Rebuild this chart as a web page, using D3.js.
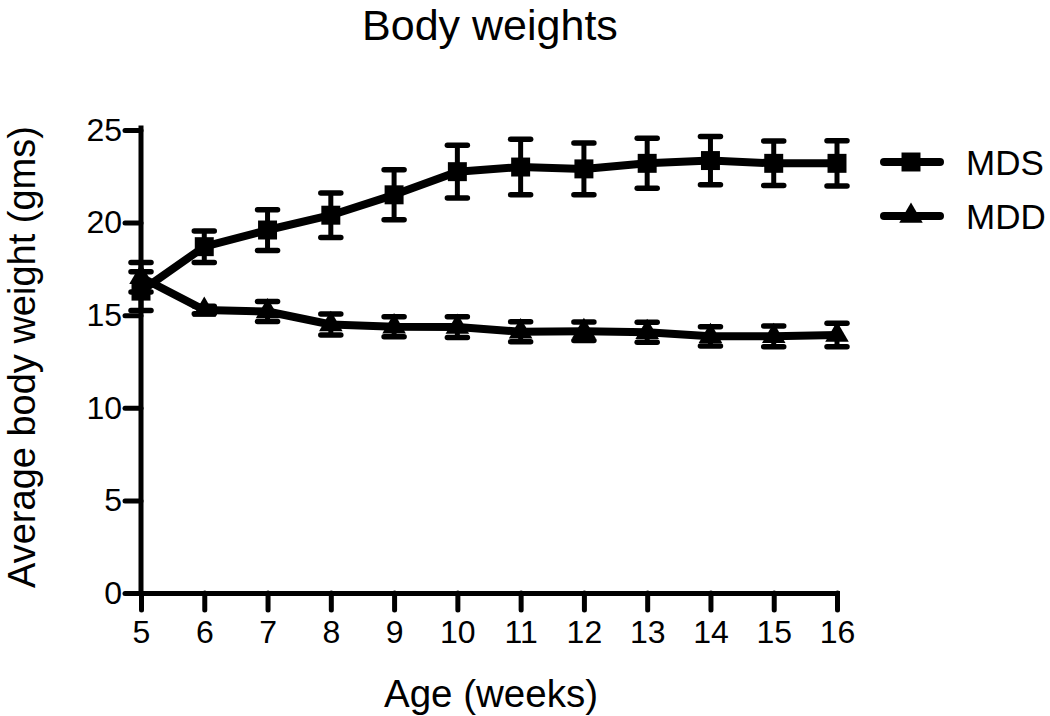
<!DOCTYPE html>
<html>
<head>
<meta charset="utf-8">
<script src="https://cdn.jsdelivr.net/npm/d3@7"></script>
<style>
  html, body { margin: 0; padding: 0; background: #fff; }
  svg { display: block; }
  text { font-family: "Liberation Sans", Arial, Helvetica, sans-serif; fill: #000; }
</style>
</head>
<body>
<svg id="chart" width="1050" height="716"></svg>
<script>
// ---- data ----
const weeks = [5, 6, 7, 8, 9, 10, 11, 12, 13, 14, 15, 16];
const mdsMean = [16.3, 18.7, 19.6, 20.4, 21.5, 22.75, 23.0, 22.9, 23.2, 23.35, 23.2, 23.2];
const mdsErr  = [1.05, 0.85, 1.1, 1.2, 1.35, 1.42, 1.5, 1.4, 1.35, 1.3, 1.2, 1.22];
const mddMean = [17.05, 15.28, 15.2, 14.5, 14.38, 14.36, 14.11, 14.13, 14.08, 13.86, 13.86, 13.93];
const mddErr  = [0.8, 0.2, 0.54, 0.57, 0.54, 0.56, 0.54, 0.5, 0.54, 0.52, 0.56, 0.63];
const yTicks = [0, 5, 10, 15, 20, 25];
const xTicks = weeks;
const seriesNames = ["MDS", "MDD"];
const titleText = "Body weights";
const xLabel = "Age (weeks)";
const yLabel = "Average body weight (gms)";

// ---- layout ----
const svg = d3.select("#chart");
const x = d3.scaleLinear().domain([5, 16]).range([141, 837]);
const y = d3.scaleLinear().domain([0, 25]).range([593, 130]);

// title
svg.append("text").attr("x", 490).attr("y", 40)
  .attr("text-anchor", "middle").style("font-size", "43px").text(titleText);

// axes
const yAxis = d3.axisLeft(y).tickValues(yTicks).tickSize(16).tickSizeOuter(0).tickPadding(3);
const gy = svg.append("g").attr("transform", `translate(${x(5)},0)`).call(yAxis);
const xAxis = d3.axisBottom(x).tickValues(xTicks).tickSize(17).tickSizeOuter(0).tickPadding(10);
const gx = svg.append("g").attr("transform", `translate(0,${y(0)})`).call(xAxis);

[gy, gx].forEach(g => {
  g.select(".domain").attr("stroke", "#000").attr("stroke-width", 5).attr("stroke-linecap", "square");
  g.selectAll(".tick line").attr("stroke", "#000").attr("stroke-width", 5).attr("stroke-linecap", "round");
  g.selectAll(".tick text").style("font-size", "32px").attr("fill", "#000");
});
gy.select(".domain").attr("d", `M0,${y(0)}V${y(25) - 2}`);

// axis labels
svg.append("text").attr("x", 491).attr("y", 707)
  .attr("text-anchor", "middle").style("font-size", "38.5px").text(xLabel);
svg.append("text").attr("transform", `translate(35,357) rotate(-90)`)
  .attr("text-anchor", "middle").style("font-size", "38px").text(yLabel);

// series
const series = [
  { name: seriesNames[0], mean: mdsMean, err: mdsErr, symbol: d3.symbolSquare, size: 360 },
  { name: seriesNames[1], mean: mddMean, err: mddErr, symbol: d3.symbolTriangle, size: 240 }
];

const line = d3.line().x((d, i) => x(weeks[i])).y(d => y(d));

series.forEach(s => {
  const g = svg.append("g");
  const eb = g.append("g");
  s.mean.forEach((m, i) => {
    const cx = x(weeks[i]);
    const top = y(m + s.err[i]), bot = y(m - s.err[i]);
    eb.append("line").attr("x1", cx).attr("x2", cx).attr("y1", top).attr("y2", bot)
      .attr("stroke", "#000").attr("stroke-width", 5);
    [top, bot].forEach(yy => {
      eb.append("line").attr("x1", cx - 10).attr("x2", cx + 10).attr("y1", yy).attr("y2", yy)
        .attr("stroke", "#000").attr("stroke-width", 5.5).attr("stroke-linecap", "round");
    });
  });
  g.append("path").attr("d", line(s.mean)).attr("fill", "none")
    .attr("stroke", "#000").attr("stroke-width", 8).attr("stroke-linejoin", "round");
  g.selectAll("path.pt").data(s.mean).enter().append("path").attr("class", "pt")
    .attr("transform", (d, i) => `translate(${x(weeks[i])},${y(d)})`)
    .attr("d", d3.symbol().type(s.symbol).size(s.size)).attr("fill", "#000");
});

// legend
const legY = [162, 216];
series.forEach((s, i) => {
  const g = svg.append("g").attr("transform", `translate(0,${legY[i]})`);
  g.append("line").attr("x1", 884).attr("x2", 940).attr("y1", 0).attr("y2", 0)
    .attr("stroke", "#000").attr("stroke-width", 8).attr("stroke-linecap", "round");
  g.append("path").attr("transform", "translate(911,0)")
    .attr("d", d3.symbol().type(s.symbol).size(s.size)).attr("fill", "#000");
  g.append("text").attr("x", 966).attr("y", 0).attr("dy", "0.36em")
    .style("font-size", "35px").text(s.name);
});
</script>
</body>
</html>
